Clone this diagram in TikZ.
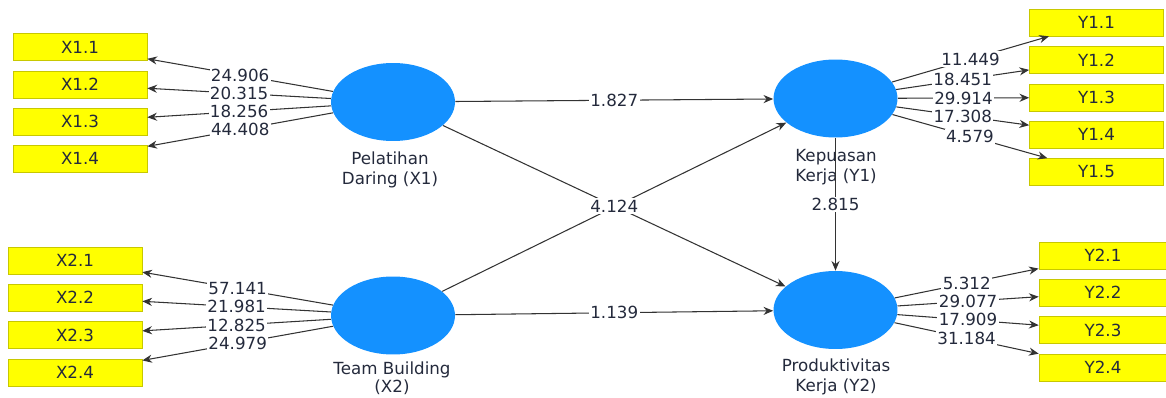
\documentclass[tikz,border=0pt]{standalone}
\usepackage{fontspec}
\setmainfont{DejaVu Sans}
\usetikzlibrary{positioning,shapes,arrows,arrows.meta}
\definecolor{lvblue}{RGB}{20,145,255}
\definecolor{boxyellow}{RGB}{255,255,0}
\definecolor{boxedge}{RGB}{200,200,0}
\definecolor{txtgray}{RGB}{36,42,60}

\begin{document}
\begin{tikzpicture}[x=0.02cm,y=-0.02cm,
                       font=\fontsize{9.5}{11}\selectfont,
                       latent node/.style={ellipse,fill=lvblue,minimum width=2.48cm,minimum height=1.56cm,inner sep=0pt},
                       item node/.style={rectangle,fill=boxyellow,draw=boxedge,minimum width=2.68cm,minimum height=0.54cm,inner sep=0pt,text=txtgray},
                       name label/.style={align=center,text=txtgray},
                       coef/.style={fill=white,inner sep=0.8pt,text=txtgray},
                       every edge/.style={draw,color=black!80,line width=0.6pt,-{Stealth[length=5.5pt,width=4.6pt]}}
                      ]
  \useasboundingbox (0,0) rectangle (1166,398);
  % indicators X1
  \node[item node] (x11) at (80,47) {X1.1};
  \node[item node] (x12) at (80,84.5) {X1.2};
  \node[item node] (x13) at (80,121.5) {X1.3};
  \node[item node] (x14) at (80,158.5) {X1.4};
  % indicators X2
  \node[item node] (x21) at (75,260.5) {X2.1};
  \node[item node] (x22) at (75,297.5) {X2.2};
  \node[item node] (x23) at (75,335) {X2.3};
  \node[item node] (x24) at (75,372.5) {X2.4};
  % indicators Y1
  \node[item node] (y11) at (1096.5,22.5) {Y1.1};
  \node[item node] (y12) at (1096.5,60) {Y1.2};
  \node[item node] (y13) at (1096.5,97.5) {Y1.3};
  \node[item node] (y14) at (1096.5,134.5) {Y1.4};
  \node[item node] (y15) at (1096.5,172) {Y1.5};
  % indicators Y2
  \node[item node,minimum width=2.56cm] (y21) at (1103,255.5) {Y2.1};
  \node[item node,minimum width=2.56cm] (y22) at (1103,292.5) {Y2.2};
  \node[item node,minimum width=2.56cm] (y23) at (1103,330) {Y2.3};
  \node[item node,minimum width=2.56cm] (y24) at (1103,367.5) {Y2.4};
  % latent variables
  \node[latent node] (x1) at (393,102) {};
  \node[latent node] (x2) at (393,315.5) {};
  \node[latent node] (y1) at (835.5,98.5) {};
  \node[latent node] (y2) at (835.5,310) {};
  \node[name label] (x1name) at (390,170) {Pelatihan\\Daring (X1)};
  \node[name label,font=\fontsize{9.5}{10.5}\selectfont] (x2name) at (392,378) {Team Building\\(X2)};
  \node[name label] (y1name) at (836,167) {Kepuasan\\Kerja (Y1)};
  \node[name label] (y2name) at (836,377) {Produktivitas\\Kerja (Y2)};
    \path%
      (x1) edge node[coef] {24.906} (x11)
      (x1) edge node[coef] {20.315} (x12)
      (x1) edge node[coef] {18.256} (x13)
      (x1) edge node[coef] {44.408} (x14);
    \path%
      (x2) edge node[coef] {57.141} (x21)
      (x2) edge node[coef] {21.981} (x22)
      (x2) edge node[coef] {12.825} (x23)
      (x2) edge node[coef] {24.979} (x24);
    \path%
      (y1) edge node[coef] {11.449} (y11)
      (y1) edge node[coef] {18.451} (y12)
      (y1) edge node[coef] {29.914} (y13)
      (y1) edge node[coef] {17.308} (y14)
      (y1) edge node[coef] {4.579} (y15);
    \path%
      (y2) edge node[coef] {5.312} (y21)
      (y2) edge node[coef] {29.077} (y22)
      (y2) edge node[coef] {17.909} (y23)
      (y2) edge node[coef] {31.184} (y24);
    \path (x2) edge (y1);
    \path%
      (x1) edge node[coef] {1.827} (y1)
      (x1) edge node[coef] {4.124} (y2)
      (x2) edge node[coef] {1.139} (y2)
      (y1) edge node[coef] {2.815} (y2);
\end{tikzpicture}
\end{document}
